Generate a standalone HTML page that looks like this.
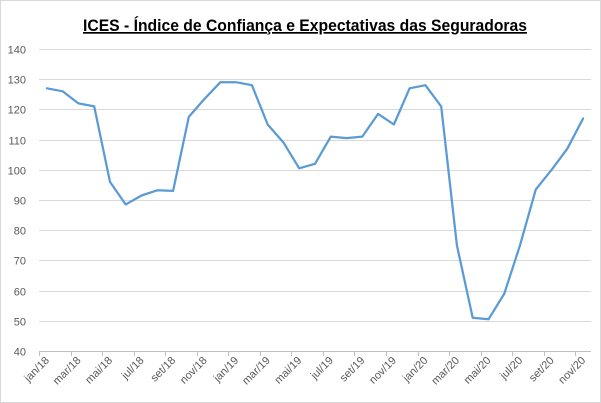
<!DOCTYPE html>
<html><head><meta charset="utf-8"><style>
html,body{margin:0;padding:0;background:#fff;}
svg{display:block;font-family:"Liberation Sans",sans-serif;}
</style></head><body>
<svg id="chart" width="601" height="403" viewBox="0 0 601 403">
<rect x="0.5" y="0.5" width="600" height="402" fill="#fff" stroke="#d9d9d9"/>
<text x="305" y="31" text-anchor="middle" font-size="17" font-weight="bold" fill="#000" textLength="444" lengthAdjust="spacingAndGlyphs" text-decoration="underline">ICES - Índice de Confiança e Expectativas das Seguradoras</text>
<g id="grid"></g><g id="yl"></g><g id="xl"></g><g id="series"></g>
</svg>
<script>
const categories=["jan/18","fev/18","mar/18","abr/18","mai/18","jun/18","jul/18","ago/18","set/18","out/18","nov/18","dez/18","jan/19","fev/19","mar/19","abr/19","mai/19","jun/19","jul/19","ago/19","set/19","out/19","nov/19","dez/19","jan/20","fev/20","mar/20","abr/20","mai/20","jun/20","jul/20","ago/20","set/20","out/20","nov/20"];
const values=[127,126,122,121,96,88.5,91.5,93.2,93,117.5,123.5,129,129,128,115,109,100.5,102,111,110.5,111,118.5,115,127,128,121,75,51,50.5,59,75,93.5,100,107,117];
const yTicks=[40,50,60,70,80,90,100,110,120,130,140];
const NS="http://www.w3.org/2000/svg";
const L=39,R=591,T=49,B=351,yMin=40,yMax=140;
const bw=(R-L)/categories.length;
const xs=i=>L+bw*(i+0.5);
const ys=v=>B-(v-yMin)/(yMax-yMin)*(B-T);
function mk(t,a,p){const e=document.createElementNS(NS,t);for(const k in a)e.setAttribute(k,a[k]);p.appendChild(e);return e;}
const grid=document.getElementById('grid'),yl=document.getElementById('yl'),xl=document.getElementById('xl'),ser=document.getElementById('series');
yTicks.forEach(v=>{
 const y=Math.round(ys(v))+0.5;
 const g=mk('line',{x1:L,x2:R,y1:y,y2:y,stroke:v===yMin?'#bfbfbf':'#d9d9d9','stroke-width':1},grid);
 
 
 const t=mk('text',{x:26,y:y+4,'text-anchor':'end','font-size':11,fill:'#595959'},yl);
 t.textContent=v;
 
 
});
categories.forEach((c,i)=>{
 if(i%2!==0)return;
 const tx=Math.round(L+bw*i)+0.5;
 const tk=mk('line',{x1:tx,x2:tx,y1:B,y2:B+5,stroke:'#bfbfbf'},xl);
 
 
 const x=xs(i)+3,y=B+10;
 const t=mk('text',{x:x,y:y,'text-anchor':'end','font-size':11,fill:'#595959',transform:`rotate(-45 ${x} ${y})`},xl);
 t.textContent=c;
 
 
});
const p=mk('polyline',{points:values.map((v,i)=>xs(i).toFixed(1)+','+ys(v).toFixed(1)).join(' '),fill:'none',stroke:'#5b9bd5','stroke-width':2.25,'stroke-linejoin':'round','stroke-linecap':'round'},ser);


</script>
</body></html>
